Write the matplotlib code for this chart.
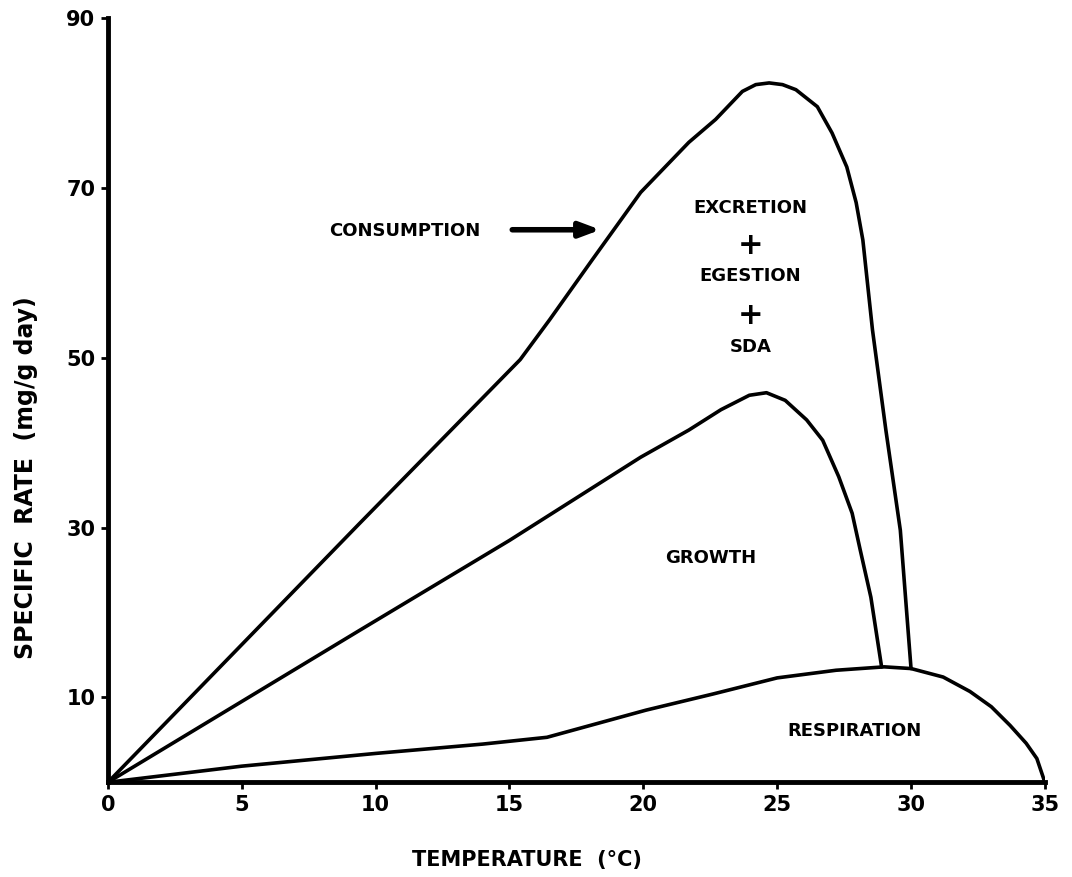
import matplotlib.pyplot as plt

# temperature (C) / specific rate (mg/g day)
cons_t = [0, 9.4, 15.4, 16.5, 18.1, 19.9, 21.7, 22.7, 23.7, 24.2, 24.7, 25.2, 25.7, 26.5, 27.05, 27.6, 27.95, 28.2, 28.56, 29.06, 29.6, 30.0]
cons_r = [0, 30.5, 49.8, 54.5, 61.6, 69.5, 75.4, 78.1, 81.4, 82.2, 82.4, 82.2, 81.6, 79.6, 76.5, 72.5, 68.3, 63.9, 53.3, 41.5, 29.7, 13.4]

grow_t = [0, 9.4, 15.0, 19.9, 21.7, 22.9, 23.96, 24.6, 25.3, 26.1, 26.7, 27.3, 27.8, 28.1, 28.5, 28.9]
grow_r = [0, 17.9, 28.5, 38.3, 41.5, 43.9, 45.6, 45.9, 45.0, 42.7, 40.3, 36.0, 31.7, 27.4, 21.8, 13.6]

resp_t = [0, 5.0, 10.0, 14.0, 16.4, 20.1, 22.6, 25.0, 27.2, 29.0, 30.0, 31.2, 32.2, 33.0, 33.7, 34.3, 34.7, 35.0]
resp_r = [0, 1.9, 3.4, 4.5, 5.3, 8.5, 10.4, 12.3, 13.2, 13.6, 13.4, 12.4, 10.7, 8.9, 6.7, 4.6, 2.8, 0]

x_ticks = [0, 5, 10, 15, 20, 25, 30, 35]
y_ticks = [10, 30, 50, 70, 90]

fig = plt.figure(figsize=(10.72, 8.77), dpi=100)
ax = fig.add_axes([0.1007, 0.108, 0.874, 0.871])

for t, r in [(cons_t, cons_r), (grow_t, grow_r), (resp_t, resp_r)]:
    ax.plot(t, r, color='black', lw=2.6, solid_joinstyle='round', solid_capstyle='round')

ax.set_xlim(0, 35)
ax.set_ylim(0, 90)
ax.set_xticks(x_ticks)
ax.set_yticks(y_ticks)
ax.tick_params(direction='out', length=5, width=2, labelsize=15, pad=4)
for lab in ax.get_xticklabels() + ax.get_yticklabels():
    lab.set_fontweight('heavy')

for side in ['top', 'right']:
    ax.spines[side].set_visible(False)
for side in ['left', 'bottom']:
    ax.spines[side].set_linewidth(3.5)

lbl = dict(fontsize=13, fontweight='heavy', ha='center', va='center')
ax.text(11.1, 65.0, 'CONSUMPTION', **lbl)
ax.annotate('', xy=(18.5, 65.1), xytext=(15.0, 65.1),
            arrowprops=dict(arrowstyle='-|>,head_length=1.2,head_width=0.45', lw=4, color='black'))
ax.text(24.0, 67.7, 'EXCRETION', **lbl)
ax.text(24.0, 63.3, '+', fontsize=22, fontweight='heavy', ha='center', va='center')
ax.text(24.0, 59.6, 'EGESTION', **lbl)
ax.text(24.0, 55.0, '+', fontsize=22, fontweight='heavy', ha='center', va='center')
ax.text(24.0, 51.3, 'SDA', **lbl)
ax.text(22.5, 26.4, 'GROWTH', **lbl)
ax.text(27.9, 6.0, 'RESPIRATION', **lbl)

fig.text(0.024, 0.455, 'SPECIFIC  RATE  (mg/g day)', rotation=90, fontsize=17,
         fontweight='heavy', ha='center', va='center')
fig.text(0.492, 0.019, 'TEMPERATURE  (°C)', fontsize=15, fontweight='heavy',
         ha='center', va='center')

fig.savefig('out.png', dpi=100)
